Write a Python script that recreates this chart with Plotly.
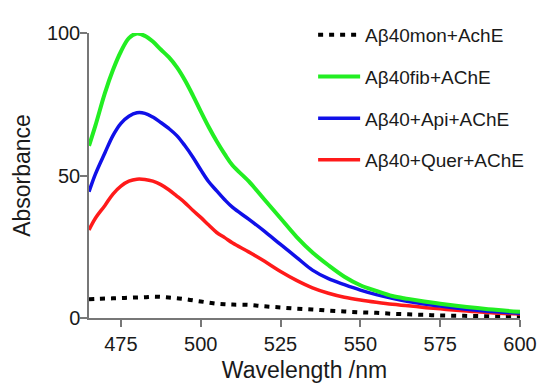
import plotly.graph_objects as go

wl = [465, 467, 470, 472.5, 475, 477.5, 480, 482.5, 485, 487.5, 490, 492.5, 495, 497.5,
      500, 502.5, 505, 507.5, 510, 515, 520, 525, 530, 535, 540, 545, 550, 555, 560,
      565, 570, 575, 580, 585, 590, 595, 600]

mon = [6.6, 6.7, 6.8, 6.9, 7.0, 7.1, 7.2, 7.3, 7.5, 7.4, 7.2, 6.9, 6.6, 6.2,
       5.8, 5.4, 5.0, 4.8, 4.7, 4.6, 4.1, 3.7, 3.3, 3.0, 2.6, 2.3, 2.0, 1.8, 1.5,
       1.3, 1.1, 0.9, 0.8, 0.7, 0.6, 0.5, 0.5]

fib = [60.4, 67.5, 79.0, 87.0, 93.5, 98.2, 99.8, 99.0, 97.0, 94.2, 91.5, 88.0, 83.5, 78.2,
       72.5, 67.0, 62.0, 57.5, 53.5, 48.0, 41.5, 35.0, 28.5, 23.0, 18.5, 14.5, 11.5, 9.5, 7.7,
       6.7, 5.8, 5.0, 4.3, 3.7, 3.1, 2.6, 2.2]

api = [44.3, 50.5, 58.0, 64.0, 68.3, 70.8, 72.0, 71.8, 70.5, 68.6, 66.5, 64.0, 60.5, 56.5,
       52.0, 47.8, 44.6, 41.5, 38.8, 34.7, 30.4, 25.8, 21.3, 16.8, 13.8, 11.7, 9.8, 8.2, 6.9,
       5.8, 4.9, 4.2, 3.5, 2.9, 2.4, 2.0, 1.7]

quer = [30.9, 35.0, 39.5, 43.5, 46.3, 48.0, 48.7, 48.6, 48.0, 46.8, 45.0, 42.8, 40.5, 37.8,
        35.3, 32.6, 30.0, 28.2, 26.3, 23.2, 19.9, 16.3, 13.2, 10.6, 8.7, 7.3, 6.3, 5.5, 4.8,
        4.3, 3.7, 3.2, 2.7, 2.3, 1.9, 1.6, 1.4]

names = ["A\u03b240mon+AchE", "A\u03b240fib+AChE", "A\u03b240+Api+AChE", "A\u03b240+Quer+AChE"]
x_ticks = [475, 500, 525, 550, 575, 600]
y_ticks = [0, 50, 100]

FONT = "Arial, Liberation Sans, sans-serif"

fig = go.Figure()
# draw order: black, red, blue, green (green on top)
fig.add_trace(go.Scatter(x=wl, y=mon, name=names[0], mode="lines", legendrank=1, legendgroup="a",
                         line=dict(color="black", width=4, dash="5px,6px", shape="spline"),
                         cliponaxis=False))
fig.add_trace(go.Scatter(x=wl, y=quer, name=names[3], mode="lines", legendrank=4, legendgroup="d",
                         line=dict(color="#ff1a1a", width=3.5, shape="spline"), cliponaxis=False))
fig.add_trace(go.Scatter(x=wl, y=api, name=names[2], mode="lines", legendrank=3, legendgroup="c",
                         line=dict(color="#1010e8", width=3.5, shape="spline"), cliponaxis=False))
fig.add_trace(go.Scatter(x=wl, y=fib, name=names[1], mode="lines", legendrank=2, legendgroup="b",
                         line=dict(color="#22ee22", width=4, shape="spline"), cliponaxis=False))

fig.update_layout(
    width=550, height=391,
    margin=dict(l=89, r=30, t=33, b=73, autoexpand=False),
    paper_bgcolor="white", plot_bgcolor="white",
    font=dict(family=FONT, color="#1a1a1a"),
    showlegend=True,
    legend=dict(x=0.52, y=1.06, xanchor="left", yanchor="top",
                font=dict(size=19, family=FONT, color="#1a1a1a"),
                tracegroupgap=14, itemwidth=42, bgcolor="rgba(0,0,0,0)"),
    xaxis=dict(range=[465, 600], tickvals=x_ticks, ticks="outside", ticklen=7, tickwidth=1.5,
               tickcolor="#777", showline=True, linecolor="#777", linewidth=1.5,
               showgrid=False, zeroline=False, tickfont=dict(size=20), automargin=False,
               title=dict(text="Wavelength /nm", font=dict(size=23), standoff=8)),
    yaxis=dict(range=[0, 100], tickvals=y_ticks, ticks="outside", ticklen=7, tickwidth=1.5,
               tickcolor="#777", showline=True, linecolor="#777", linewidth=1.5,
               showgrid=False, zeroline=False, tickfont=dict(size=20), automargin=False,
               ticklabelstandoff=-4,
               title=dict(text="Absorbance", font=dict(size=23), standoff=10)),
)

fig.write_html("out.html", config={"displayModeBar": False},
               post_script="document.body.style.margin='0px';")
